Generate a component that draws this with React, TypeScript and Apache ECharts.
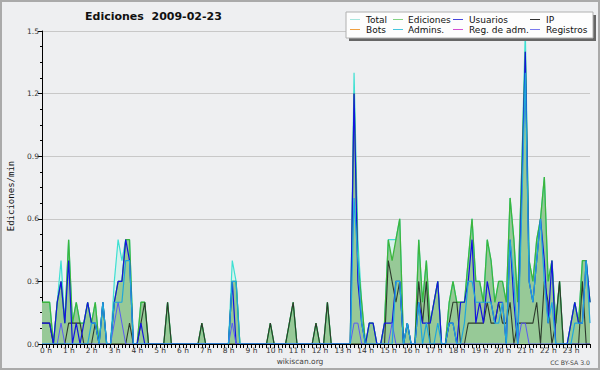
import React, { useEffect, useRef } from "react";
import * as echarts from "echarts";

const TITLE = "Ediciones  2009-02-23";
const HOURS = ["0 h","1 h","2 h","3 h","4 h","5 h","6 h","7 h","8 h","9 h","10 h","11 h",
  "12 h","13 h","14 h","15 h","16 h","17 h","18 h","19 h","20 h","21 h","22 h","23 h"];

// 10-minute bins, 00:00 .. 24:00 (edits per minute)
const total = [
  0.2,0.2,0.2,0,0.2,0.4,   0.1,0.5,0.1,0.2,0.1,0.1,   0.2,0.1,0.2,0,0.2,0,   0,0.3,0.5,0.4,0.5,0.5,
  0,0,0.2,0.2,0,0,         0,0,0,0.2,0,0,             0,0,0,0,0,0,           0.1,0,0,0,0,0,
  0,0,0.4,0.3,0,0,         0,0,0,0,0,0,               0.1,0,0,0,0,0.1,       0.2,0,0,0,0,0,
  0.1,0,0,0.2,0,0,         0,0,0,0,1.3,0.5,           0.2,0,0.1,0.1,0,0,     0.1,0.5,0.5,0.5,0.6,0,
  0.1,0,0,0.5,0.2,0.4,     0.1,0.2,0.3,0,0,0.2,       0.3,0.2,0.2,0.2,0.4,0.6, 0.3,0.3,0.2,0.5,0.4,0.2,
  0.3,0.3,0.2,0.7,0.5,0.2, 0.8,1.5,0.4,0.3,0.5,0.6,   0.8,0.3,0.4,0.1,0.3,0, 0,0.1,0.2,0.1,0.4,0.4,
  0.2,
];
const ediciones = [
  0.2,0.2,0.2,0,0.2,0.3,   0.1,0.5,0.1,0.2,0.1,0.1,   0.2,0.1,0.2,0,0.2,0,   0,0.2,0.3,0.3,0.5,0.5,
  0,0,0.2,0.2,0,0,         0,0,0,0.2,0,0,             0,0,0,0,0,0,           0.1,0,0,0,0,0,
  0,0,0.3,0.3,0,0,         0,0,0,0,0,0,               0.1,0,0,0,0,0.1,       0.2,0,0,0,0,0,
  0.1,0,0,0.2,0,0,         0,0,0,0,1.2,0.4,           0.2,0,0.1,0.1,0,0,     0.1,0.5,0.4,0.5,0.6,0,
  0.1,0,0,0.5,0.2,0.4,     0.1,0.2,0.3,0,0,0.2,       0.3,0.2,0.2,0.2,0.4,0.6, 0.3,0.3,0.2,0.5,0.4,0.2,
  0.3,0.3,0.2,0.7,0.5,0.2, 0.8,1.4,0.4,0.3,0.5,0.6,   0.8,0.3,0.4,0.1,0.3,0, 0,0.1,0.2,0.1,0.4,0.4,
  0.2,
];
const usuarios = [
  0.1,0.1,0.1,0,0.2,0.3,   0.1,0.4,0,0.1,0,0.1,       0.2,0.1,0.1,0,0.2,0,   0,0.2,0.3,0.3,0.5,0.4,
  0,0,0.1,0,0,0,           0,0,0,0,0,0,               0,0,0,0,0,0,           0,0,0,0,0,0,
  0,0,0.3,0,0,0,           0,0,0,0,0,0,               0,0,0,0,0,0,           0,0,0,0,0,0,
  0,0,0,0,0,0,             0,0,0,0,1.2,0.3,           0.1,0,0.1,0.1,0,0,     0.1,0.1,0.1,0.3,0.3,0,
  0.1,0,0,0.2,0.1,0.1,     0.1,0.2,0.3,0,0,0.1,       0.1,0,0.2,0.2,0.3,0.5, 0.1,0.2,0.1,0.3,0.2,0.1,
  0.2,0.2,0,0.5,0.2,0,     0.7,1.4,0.3,0.2,0.4,0.6,   0.4,0.1,0.4,0,0,0,     0,0.1,0.2,0.1,0.1,0.4,
  0.2,
];
const ip = [
  0.1,0.1,0.1,0,0,0,       0,0.1,0.1,0.1,0.1,0,       0,0,0.1,0,0,0,         0,0,0,0,0,0.1,
  0,0,0.1,0.2,0,0,         0,0,0,0.2,0,0,             0,0,0,0,0,0,           0.1,0,0,0,0,0,
  0,0,0,0,0,0,             0,0,0,0,0,0,               0.1,0,0,0,0,0.1,       0.2,0,0,0,0,0,
  0.1,0,0,0.2,0,0,         0,0,0,0,0,0,               0,0,0,0,0,0,           0,0.4,0.3,0.2,0.3,0,
  0,0,0,0.3,0.1,0.3,       0,0,0,0,0,0.1,             0.2,0.2,0,0,0.1,0.1,   0.1,0.1,0.1,0.2,0.1,0.1,
  0.2,0.1,0.1,0.2,0,0.1,   0.1,0.1,0.1,0.1,0.2,0,     0.3,0.2,0,0.1,0.3,0,   0,0,0,0,0.3,0,
  0,
];
const admins = [
  0,0,0,0,0,0,             0,0,0,0,0,0,               0,0.1,0.1,0,0.2,0,     0,0.2,0.2,0.2,0.4,0.4,
  0,0,0,0,0,0,             0,0,0,0,0,0,               0,0,0,0,0,0,           0,0,0,0,0,0,
  0,0,0.3,0.3,0,0,         0,0,0,0,0,0,               0,0,0,0,0,0,           0,0,0,0,0,0,
  0,0,0,0,0,0,             0,0,0,0,0.7,0.4,           0.1,0,0,0,0,0,         0,0,0,0.3,0.3,0,
  0.1,0,0,0.2,0,0.1,       0,0,0.1,0,0,0.1,           0.1,0,0,0.1,0.3,0.3,   0.2,0.2,0.2,0.2,0.2,0.1,
  0.1,0.2,0,0.5,0.3,0,     0.6,1.3,0.3,0.2,0.4,0.6,   0.3,0.1,0.2,0,0,0,     0,0,0.1,0.1,0.1,0.4,
  0.1,
];
const registros = [
  0,0,0,0,0,0.1,           0,0,0,0,0,0,               0,0,0,0,0,0,           0,0.1,0.2,0.1,0,0,
  0,0,0,0,0,0,             0,0,0,0,0,0,               0,0,0,0,0,0,           0,0,0,0,0,0,
  0,0,0.1,0,0,0,           0,0,0,0,0,0,               0,0,0,0,0,0,           0,0,0,0,0,0,
  0,0,0,0,0,0,             0,0,0,0,0.1,0.1,           0,0,0,0,0,0,           0,0,0.1,0,0,0,
  0,0,0,0,0,0,             0,0,0,0,0,0,               0,0,0,0,0,0,           0,0,0,0,0,0,
  0,0,0,0,0,0,             0.1,0.1,0,0,0,0,           0,0,0,0,0,0,           0,0,0,0,0,0,
  0,
];

const LEGEND_NAMES = ["Total", "Ediciones", "Usuarios", "IP", "Bots", "Admins.", "Reg. de adm.", "Registros"];
const LEGEND_COLORS = ["#a6e6de", "#84d484", "#4646dc", "#333333", "#f0a040", "#46c6de", "#d24ed2", "#7a7aee"];

const pairs = (arr: number[]) => arr.map((v, i) => [i, v]);

export default function App() {
  const ref = useRef<HTMLDivElement>(null);
  useEffect(() => {
    const chart = echarts.init(ref.current!, null, { renderer: "svg" });
    const font = "DejaVu Sans";
    const line = (name: string, data: number[], color: string, width: number, area?: string) => ({
      type: "line",
      name,
      data: pairs(data),
      symbol: "none",
      showSymbol: false,
      silent: true,
      lineStyle: { color, width },
      itemStyle: { color },
      areaStyle: area ? { color: area, opacity: 1 } : undefined,
    });

    const colX = [350, 393, 453, 530];
    const textX = [366, 408, 469, 546];
    const rowY = [19.5, 29.5];
    const legendEls: any[] = [
      { type: "rect", shape: { x: 349, y: 15, width: 247, height: 26 }, style: { fill: "#666666" }, z: 100 },
      { type: "rect", shape: { x: 346, y: 12, width: 247, height: 26 }, style: { fill: "#fdfdfd", stroke: "#b0b0b0", lineWidth: 1 }, z: 101 },
    ];
    LEGEND_NAMES.forEach((name, k) => {
      const c = k % 4, r = Math.floor(k / 4);
      legendEls.push({
        type: "line", z: 102,
        shape: { x1: colX[c], y1: rowY[r], x2: colX[c] + 10, y2: rowY[r] },
        style: { stroke: LEGEND_COLORS[k], lineWidth: 1 },
      });
      legendEls.push({
        type: "text", z: 102, x: textX[c], y: rowY[r],
        style: { text: name, font: `9px "${font}"`, fill: "#111", textAlign: "left", textVerticalAlign: "middle" },
      });
    });

    chart.setOption({
      animation: false,
      backgroundColor: "#eeeff1",
      grid: { left: 42, right: 10, top: 31, bottom: 26 },
      xAxis: {
        type: "value", min: 0, max: 144, interval: 6, z: 5,
        axisLine: { lineStyle: { color: "#000", width: 1 } },
        axisTick: { length: 4, lineStyle: { color: "#000" } },
        minorTick: { show: true, splitNumber: 6, length: 4, lineStyle: { color: "#000" } },
        splitLine: { show: false },
        axisLabel: {
          margin: 2, showMaxLabel: false, showMinLabel: true,
          formatter: (v: number) => {
            const h = Math.round(v / 6);
            return h < HOURS.length ? `{s| }{t|${HOURS[h]}}` : "";
          },
          rich: {
            s: { width: 8, fontSize: 7.5 },
            t: { fontFamily: font, fontSize: 7.5, color: "#333" },
          },
        },
      },
      yAxis: {
        type: "value", min: 0, max: 1.5, interval: 0.3,
        axisLine: { show: true, lineStyle: { color: "#000", width: 1 } },
        axisTick: { show: true, length: 4, lineStyle: { color: "#000" } },
        minorTick: { show: true, splitNumber: 4, length: 2, lineStyle: { color: "#000" } },
        splitLine: { lineStyle: { color: "#c8c8c8", width: 1 } },
        axisLabel: {
          margin: 3, fontFamily: font, fontSize: 7.5, color: "#333",
          formatter: (v: number) => v.toFixed(1),
        },
      },
      series: [
        line("Total", total, "#3ee0d2", 1.2, "#d8f1ed"),
        line("Ediciones", ediciones, "#3db53d", 1.3, "#97c997"),
        line("IP", ip, "#2d3a2d", 1.1),
        line("Usuarios", usuarios, "#1414e0", 1.2),
        line("Registros", registros, "#5a5af5", 1),
        line("Admins.", admins, "#1ea6dc", 1.2),
      ],
      graphic: [
        { type: "rect", z: 110, silent: true, shape: { x: 1, y: 1, width: 598, height: 368 }, style: { fill: "none", stroke: "#aaaaaa", lineWidth: 2 } },
        { type: "text", z: 110, x: 85, y: 16, style: { text: TITLE, font: `bold 11px "${font}"`, fill: "#111", textAlign: "left", textVerticalAlign: "middle" } },
        { type: "text", z: 110, x: 11, y: 196, rotation: Math.PI / 2, style: { text: "Ediciones/min", font: `9px "DejaVu Sans Mono"`, fill: "#111", textAlign: "center", textVerticalAlign: "middle" } },
        { type: "text", z: 110, x: 300, y: 361, style: { text: "wikiscan.org", font: `7.5px "${font}"`, fill: "#444", textAlign: "center", textVerticalAlign: "middle" } },
        { type: "text", z: 110, x: 590, y: 362, style: { text: "CC BY-SA 3.0", font: `6.2px "${font}"`, fill: "#444", textAlign: "right", textVerticalAlign: "middle" } },
        ...legendEls,
      ],
    });
    return () => chart.dispose();
  }, []);
  return <div ref={ref} style={{ position: "absolute", left: 0, top: 0, width: 600, height: 370 }} />;
}
